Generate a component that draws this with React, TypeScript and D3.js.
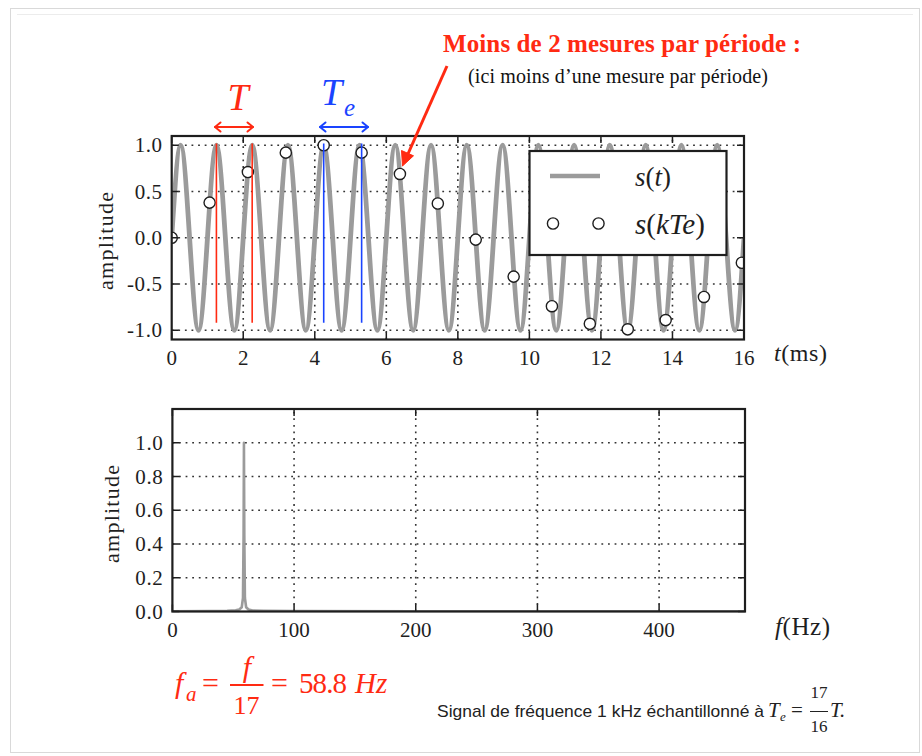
import React from "react";
import * as d3 from "d3";

// ---------- data ----------
// continuous signal s(t) read at every quarter millisecond (1 kHz sine)
const signalStepMs = 0.25;
const signalValues = [
  0, 1, 0, -1, 0, 1, 0, -1, 0, 1, 0, -1, 0, 1, 0, -1,
  0, 1, 0, -1, 0, 1, 0, -1, 0, 1, 0, -1, 0, 1, 0, -1,
  0, 1, 0, -1, 0, 1, 0, -1, 0, 1, 0, -1, 0, 1, 0, -1,
  0, 1, 0, -1, 0, 1, 0, -1, 0, 1, 0, -1, 0, 1, 0, -1, 0,
];
// sampled points s(kTe)
const sampleTimes = [0, 1.06, 2.13, 3.19, 4.25, 5.31, 6.38, 7.44, 8.5, 9.56, 10.63, 11.69, 12.75, 13.81, 14.88, 15.94];
const sampleValues = [0, 0.38, 0.71, 0.92, 1.0, 0.92, 0.69, 0.37, -0.02, -0.42, -0.74, -0.93, -0.99, -0.89, -0.64, -0.27];
// period markers (red) and sampling markers (blue)
const periodMarkers = [1.25, 2.25];
const samplingMarkers = [4.25, 5.31];
// spectrum
const spectrumFreqs = [0, 30, 45, 52, 55, 57, 58, 58.5, 58.8, 59.1, 59.6, 60.6, 62.5, 66, 75, 100, 200, 300, 400, 470.6];
const spectrumAmps = [0.001, 0.002, 0.004, 0.007, 0.012, 0.025, 0.08, 0.45, 1.0, 0.45, 0.08, 0.025, 0.012, 0.006, 0.004, 0.002, 0.001, 0.001, 0.001, 0.001];
// ticks
const topXTicks = [0, 2, 4, 6, 8, 10, 12, 14, 16];
const topYTicks = [-1, -0.5, 0, 0.5, 1];
const botXTicks = [0, 100, 200, 300, 400];
const botYTicks = [0, 0.2, 0.4, 0.6, 0.8, 1.0];

const SERIF = "'Liberation Serif', 'Times New Roman', serif";
const SANS = "'Liberation Sans', Arial, sans-serif";
const RED = "#ff2a12";
const BLUE = "#1a44ff";
const GRAY = "#9b9b9b";
const INK = "#1e1e1e";

function Frame({ x, y, xTicks, yTicks, xGrid, yGrid, xFmt, yFmt, xLabelY, clipId, children }: any) {
  const [x0, x1] = x.range();
  const [y0, y1] = y.range(); // y0 bottom, y1 top
  const tl = 7;
  const dot = { stroke: "#333", strokeWidth: 1.6, strokeDasharray: "1.8 4.8", fill: "none" };
  return (
    <g>
      <defs>
        <clipPath id={clipId}>
          <rect x={x0} y={y1} width={x1 - x0} height={y0 - y1} />
        </clipPath>
      </defs>
      {xGrid.map((t: number) => (
        <line key={"gx" + t} x1={x(t)} x2={x(t)} y1={y0} y2={y1} {...dot} />
      ))}
      {yGrid.map((t: number) => (
        <line key={"gy" + t} x1={x0} x2={x1} y1={y(t)} y2={y(t)} {...dot} />
      ))}
      <g clipPath={`url(#${clipId})`}>{children}</g>
      {xTicks.map((t: number) => (
        <g key={"tx" + t}>
          <line x1={x(t)} x2={x(t)} y1={y0} y2={y0 - tl} stroke={INK} strokeWidth={1.5} />
          <line x1={x(t)} x2={x(t)} y1={y1} y2={y1 + tl} stroke={INK} strokeWidth={1.5} />
          <text x={x(t)} y={xLabelY} textAnchor="middle" fontFamily={SERIF} fontSize={21} fill={INK}>
            {xFmt(t)}
          </text>
        </g>
      ))}
      {yTicks.map((t: number) => (
        <g key={"ty" + t}>
          <line x1={x0} x2={x0 + tl} y1={y(t)} y2={y(t)} stroke={INK} strokeWidth={1.5} />
          <line x1={x1} x2={x1 - tl} y1={y(t)} y2={y(t)} stroke={INK} strokeWidth={1.5} />
          <text x={x0 - 9} y={y(t) + 7} textAnchor="end" fontFamily={SERIF} fontSize={21} letterSpacing={0.6} fill={INK}>
            {yFmt(t)}
          </text>
        </g>
      ))}
      <rect x={x0} y={y1} width={x1 - x0} height={y0 - y1} fill="none" stroke={INK} strokeWidth={2.2} />
    </g>
  );
}

function DoubleArrow({ xa, xb, y, color }: any) {
  const h = 4.5;
  return (
    <g stroke={color} strokeWidth={2} fill="none" strokeLinecap="round" strokeLinejoin="round">
      <line x1={xa} x2={xb} y1={y} y2={y} />
      <path d={`M${xa + h + 1},${y - h} L${xa},${y} L${xa + h + 1},${y + h}`} />
      <path d={`M${xb - h - 1},${y - h} L${xb},${y} L${xb - h - 1},${y + h}`} />
    </g>
  );
}

export default function App() {
  // top panel scales
  const xT = d3.scaleLinear().domain([0, 16]).range([171.7, 744]);
  const yT = d3.scaleLinear().domain([-1.1, 1.1]).range([339.5, 136]);
  // bottom panel scales
  const xB = d3.scaleLinear().domain([0, 470.6]).range([172.4, 745]);
  const yB = d3.scaleLinear().domain([0, 1.2]).range([611.5, 409]);

  const sigLine = d3
    .line<number>()
    .x((_, i) => xT(i * signalStepMs))
    .y((v) => yT(v))
    .curve(d3.curveNatural);

  const specLine = d3
    .line<number>()
    .x((_, i) => xB(spectrumFreqs[i]))
    .y((v) => yB(v));

  const fmt1 = d3.format(".1f");
  const fmtY = (v: number) => (v < 0 ? "-" + fmt1(-v) : fmt1(v));

  // legend box
  const lg = { x: 529.5, y: 151, w: 197, h: 104 };

  return (
    <svg width={922} height={756} style={{ position: "absolute", left: 0, top: 0, background: "#fff" }}>
      {/* card */}
      <rect x={10.5} y={8.5} width={909} height={744} fill="#fff" stroke="#d9d9d9" strokeWidth={1} />
      <line x1={17} x2={913} y1={14.5} y2={14.5} stroke="#ececec" strokeWidth={1} />

      {/* ---------- top panel ---------- */}
      <Frame
        x={xT}
        y={yT}
        xTicks={topXTicks}
        yTicks={topYTicks}
        xGrid={topXTicks.slice(1, -1)}
        yGrid={topYTicks}
        xFmt={(t: number) => String(t)}
        yFmt={fmtY}
        xLabelY={365}
        clipId="clipTop"
      >
        <path d={sigLine(signalValues) || ""} fill="none" stroke={GRAY} strokeWidth={4.8} />
        {sampleTimes.map((t, i) => (
          <circle key={i} cx={xT(t)} cy={yT(sampleValues[i])} r={5.6} fill="#fff" stroke={INK} strokeWidth={1.4} />
        ))}
        {periodMarkers.map((t) => (
          <line key={"p" + t} x1={xT(t)} x2={xT(t)} y1={yT(1.02)} y2={yT(-0.92)} stroke={RED} strokeWidth={1.6} />
        ))}
        {samplingMarkers.map((t) => (
          <line key={"s" + t} x1={xT(t)} x2={xT(t)} y1={yT(1.02)} y2={yT(-0.92)} stroke={BLUE} strokeWidth={1.6} />
        ))}
      </Frame>

      {/* legend */}
      <rect x={lg.x} y={lg.y} width={lg.w} height={lg.h} fill="#fff" stroke={INK} strokeWidth={2.2} />
      <line x1={550} x2={600} y1={176} y2={176} stroke={GRAY} strokeWidth={4.6} />
      <text x={635} y={186} fontFamily={SERIF} fontSize={27} fill={INK}>
        <tspan fontStyle="italic">s</tspan>(<tspan fontStyle="italic">t</tspan>)
      </text>
      <circle cx={553} cy={223.5} r={5.6} fill="#fff" stroke={INK} strokeWidth={1.4} />
      <circle cx={598.5} cy={223.5} r={5.6} fill="#fff" stroke={INK} strokeWidth={1.4} />
      <text x={635} y={234} fontFamily={SERIF} fontSize={29} fill={INK}>
        <tspan fontStyle="italic">s</tspan>(<tspan fontStyle="italic">kTe</tspan>)
      </text>

      {/* axis labels top */}
      <text
        transform={`translate(113,241) rotate(-90)`}
        textAnchor="middle"
        fontFamily={SERIF}
        fontSize={22}
        fill={INK}
        textLength={98}
        lengthAdjust="spacing"
      >
        amplitude
      </text>
      <text x={774} y={361} fontFamily={SERIF} fontSize={24} fill={INK} textLength={53} lengthAdjust="spacing">
        <tspan fontStyle="italic">t</tspan>(ms)
      </text>

      {/* T and Te annotations */}
      <text x={238} y={110} textAnchor="middle" fontFamily={SERIF} fontStyle="italic" fontSize={38} fill={RED}>
        T
      </text>
      <DoubleArrow xa={215} xb={253} y={127} color={RED} />
      <text x={321} y={105} fontFamily={SERIF} fontStyle="italic" fontSize={38} fill={BLUE}>
        T
      </text>
      <text x={344} y={116} fontFamily={SERIF} fontStyle="italic" fontSize={25} fill={BLUE}>
        e
      </text>
      <DoubleArrow xa={320} xb={368} y={127} color={BLUE} />

      {/* title annotation */}
      <text x={443} y={52} fontFamily={SERIF} fontWeight="bold" fontSize={25} fill={RED} textLength={358} lengthAdjust="spacing">
        Moins de 2 mesures par période :
      </text>
      <text x={468} y={83} fontFamily={SERIF} fontSize={20} fill="#111" textLength={300} lengthAdjust="spacing">
        (ici moins d’une mesure par période)
      </text>
      <line x1={447} y1={66} x2={407.5} y2={155} stroke={RED} strokeWidth={3} />
      <path d="M402.5,166 L401.5,150.5 L413.5,155.8 Z" fill={RED} stroke={RED} strokeWidth={1} strokeLinejoin="round" />

      {/* ---------- bottom panel ---------- */}
      <Frame
        x={xB}
        y={yB}
        xTicks={botXTicks}
        yTicks={botYTicks}
        xGrid={botXTicks.slice(1)}
        yGrid={botYTicks.slice(1)}
        xFmt={(t: number) => String(t)}
        yFmt={fmtY}
        xLabelY={637}
        clipId="clipBot"
      >
        <path d={specLine(spectrumAmps) || ""} fill="none" stroke={GRAY} strokeWidth={2.6} strokeLinejoin="round" />
      </Frame>
      <text
        transform={`translate(119,514) rotate(-90)`}
        textAnchor="middle"
        fontFamily={SERIF}
        fontSize={22}
        fill={INK}
        textLength={98}
        lengthAdjust="spacing"
      >
        amplitude
      </text>
      <text x={775} y={635} fontFamily={SERIF} fontSize={25} fill={INK} textLength={55} lengthAdjust="spacing">
        <tspan fontStyle="italic">f</tspan>(Hz)
      </text>

      {/* ---------- bottom formula (red) ---------- */}
      <g fontFamily={SERIF} fill={RED}>
        <text x={175} y={693} fontSize={30} fontStyle="italic">f</text>
        <text x={186} y={701} fontSize={21} fontStyle="italic">a</text>
        <text x={202} y={693} fontSize={30}>=</text>
        <line x1={230} x2={263.5} y1={685} y2={685} stroke={RED} strokeWidth={2} />
        <text x={247} y={677} fontSize={30} fontStyle="italic" textAnchor="middle">f</text>
        <text x={246.5} y={714} fontSize={26} textAnchor="middle">17</text>
        <text x={271} y={693} fontSize={30}>=</text>
        <text x={299} y={693} fontSize={29} textLength={48} lengthAdjust="spacing">58.8</text>
        <text x={355} y={693} fontSize={29} fontStyle="italic">Hz</text>
      </g>

      {/* ---------- caption ---------- */}
      <text x={437} y={717} fontFamily={SANS} fontSize={17} fill="#222" textLength={327} lengthAdjust="spacingAndGlyphs">
        Signal de fréquence 1 kHz échantillonné à
      </text>
      <g fontFamily={SERIF} fill="#222">
        <text x={768} y={717} fontSize={21} fontStyle="italic">T</text>
        <text x={780} y={721} fontSize={13} fontStyle="italic">e</text>
        <text x={791} y={717} fontSize={21}>=</text>
        <text x={819} y={698} fontSize={17} textAnchor="middle">17</text>
        <line x1={810} x2={828} y1={711.5} y2={711.5} stroke="#222" strokeWidth={1} />
        <text x={819} y={731.5} fontSize={17} textAnchor="middle">16</text>
        <text x={830} y={717} fontSize={21} fontStyle="italic">T.</text>
      </g>
    </svg>
  );
}
